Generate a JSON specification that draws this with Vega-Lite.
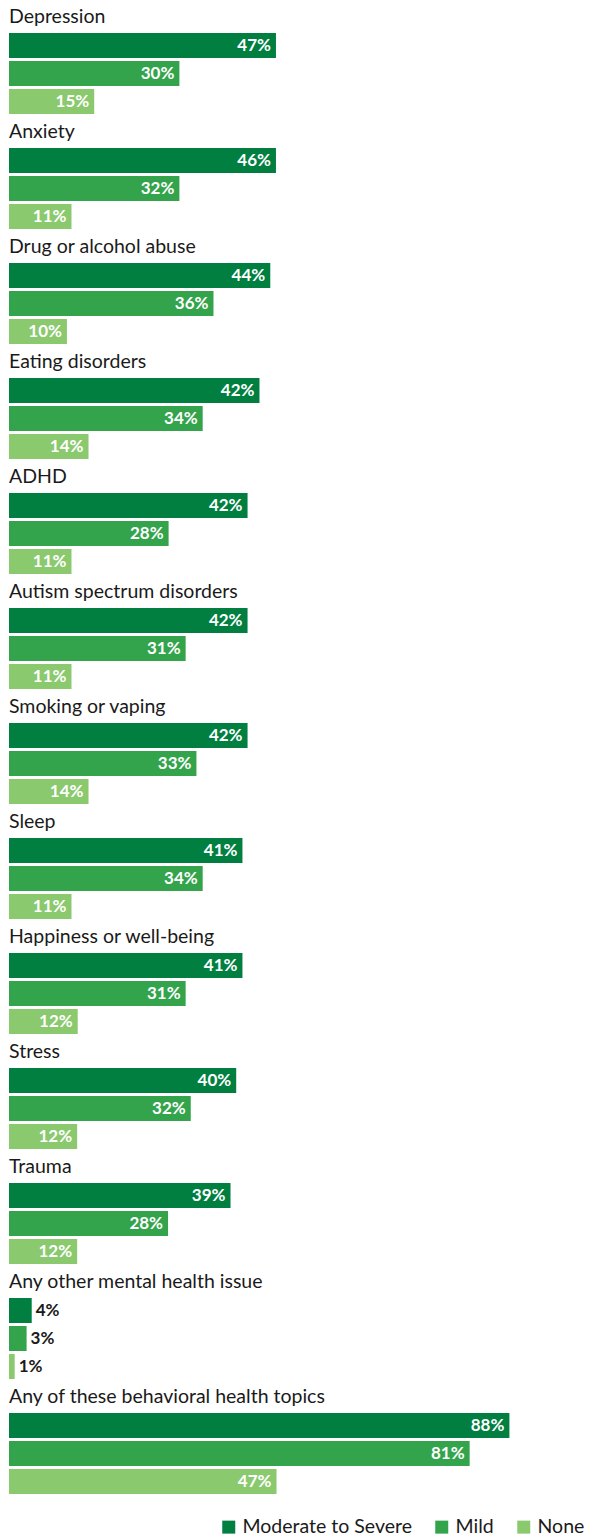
{
  "$schema": "https://vega.github.io/schema/vega-lite/v6.json",
  "padding": {"left": 9, "top": 0, "right": 12, "bottom": 0},
  "width": 568,
  "height": {"step": 115, "for": "position"},
  "config": {
    "view": {"stroke": null},
    "font": "Lato",
    "text": {"font": "Lato"}
  },
  "data": {
    "values": [
      {"topic": "Depression", "level": "Moderate to Severe", "pct": 47, "label": "47%"},
      {"topic": "Depression", "level": "Mild", "pct": 30, "label": "30%"},
      {"topic": "Depression", "level": "None", "pct": 15, "label": "15%"},
      {"topic": "Anxiety", "level": "Moderate to Severe", "pct": 47, "label": "46%"},
      {"topic": "Anxiety", "level": "Mild", "pct": 30, "label": "32%"},
      {"topic": "Anxiety", "level": "None", "pct": 11, "label": "11%"},
      {"topic": "Drug or alcohol abuse", "level": "Moderate to Severe", "pct": 46, "label": "44%"},
      {"topic": "Drug or alcohol abuse", "level": "Mild", "pct": 36, "label": "36%"},
      {"topic": "Drug or alcohol abuse", "level": "None", "pct": 10.2, "label": "10%"},
      {"topic": "Eating disorders", "level": "Moderate to Severe", "pct": 44.1, "label": "42%"},
      {"topic": "Eating disorders", "level": "Mild", "pct": 34.1, "label": "34%"},
      {"topic": "Eating disorders", "level": "None", "pct": 14, "label": "14%"},
      {"topic": "ADHD", "level": "Moderate to Severe", "pct": 42, "label": "42%"},
      {"topic": "ADHD", "level": "Mild", "pct": 28.1, "label": "28%"},
      {"topic": "ADHD", "level": "None", "pct": 11, "label": "11%"},
      {"topic": "Autism spectrum disorders", "level": "Moderate to Severe", "pct": 42, "label": "42%"},
      {"topic": "Autism spectrum disorders", "level": "Mild", "pct": 31.1, "label": "31%"},
      {"topic": "Autism spectrum disorders", "level": "None", "pct": 11, "label": "11%"},
      {"topic": "Smoking or vaping", "level": "Moderate to Severe", "pct": 42, "label": "42%"},
      {"topic": "Smoking or vaping", "level": "Mild", "pct": 33, "label": "33%"},
      {"topic": "Smoking or vaping", "level": "None", "pct": 14, "label": "14%"},
      {"topic": "Sleep", "level": "Moderate to Severe", "pct": 41.1, "label": "41%"},
      {"topic": "Sleep", "level": "Mild", "pct": 34.1, "label": "34%"},
      {"topic": "Sleep", "level": "None", "pct": 11, "label": "11%"},
      {"topic": "Happiness or well-being", "level": "Moderate to Severe", "pct": 41.1, "label": "41%"},
      {"topic": "Happiness or well-being", "level": "Mild", "pct": 31.1, "label": "31%"},
      {"topic": "Happiness or well-being", "level": "None", "pct": 12.1, "label": "12%"},
      {"topic": "Stress", "level": "Moderate to Severe", "pct": 40, "label": "40%"},
      {"topic": "Stress", "level": "Mild", "pct": 32, "label": "32%"},
      {"topic": "Stress", "level": "None", "pct": 12, "label": "12%"},
      {"topic": "Trauma", "level": "Moderate to Severe", "pct": 39, "label": "39%"},
      {"topic": "Trauma", "level": "Mild", "pct": 28, "label": "28%"},
      {"topic": "Trauma", "level": "None", "pct": 12, "label": "12%"},
      {"topic": "Any other mental health issue", "level": "Moderate to Severe", "pct": 4, "label": "4%"},
      {"topic": "Any other mental health issue", "level": "Mild", "pct": 3.1, "label": "3%"},
      {"topic": "Any other mental health issue", "level": "None", "pct": 1, "label": "1%"},
      {"topic": "Any of these behavioral health topics", "level": "Moderate to Severe", "pct": 88.1, "label": "88%"},
      {"topic": "Any of these behavioral health topics", "level": "Mild", "pct": 81.1, "label": "81%"},
      {"topic": "Any of these behavioral health topics", "level": "None", "pct": 47.1, "label": "47%"}
    ]
  },
  "encoding": {
    "y": {"field": "topic", "type": "nominal", "sort": null, "axis": null,
          "scale": {"paddingInner": 0, "paddingOuter": 0}}
  },
  "layer": [
    {
      "mark": {"type": "bar"},
      "encoding": {
        "x": {"field": "pct", "type": "quantitative", "axis": null,
              "scale": {"domain": [0, 100], "nice": false, "zero": true}},
        "yOffset": {"field": "level", "type": "nominal", "sort": ["Moderate to Severe", "Mild", "None"],
                    "scale": {"paddingInner": 0.1071, "paddingOuter": 0.607, "align": 0.97}},
        "color": {"field": "level", "type": "nominal",
                  "scale": {"domain": ["Moderate to Severe", "Mild", "None"],
                            "range": ["#007f41", "#33a44c", "#8bc96f"]},
                  "legend": {"title": null, "orient": "none", "direction": "horizontal",
                             "legendX": 210, "legendY": 1517,
                             "symbolType": "square", "symbolSize": 169, "symbolStrokeWidth": 0,
                             "labelFont": "Lato", "labelFontSize": 19.5, "labelColor": "#1a1a1a",
                             "labelLimit": 0, "labelOffset": 4, "columnPadding": 20}}
      }
    },
    {
      "transform": [{"filter": "datum.pct >= 8"}],
      "mark": {"type": "text", "align": "right", "baseline": "middle", "dx": -5, "dy": 1,
               "font": "Lato", "fontSize": 17, "fontWeight": "bold", "color": "#ffffff"},
      "encoding": {
        "x": {"field": "pct", "type": "quantitative"},
        "yOffset": {"field": "level", "type": "nominal", "sort": ["Moderate to Severe", "Mild", "None"]},
        "text": {"field": "label"}
      }
    },
    {
      "transform": [{"filter": "datum.pct < 8"}],
      "mark": {"type": "text", "align": "left", "baseline": "middle", "dx": 4, "dy": 1,
               "font": "Lato", "fontSize": 17, "fontWeight": "bold", "color": "#1a1a1a"},
      "encoding": {
        "x": {"field": "pct", "type": "quantitative"},
        "yOffset": {"field": "level", "type": "nominal", "sort": ["Moderate to Severe", "Mild", "None"]},
        "text": {"field": "label"}
      }
    },
    {
      "transform": [{"filter": "datum.level == 'Moderate to Severe'"}],
      "mark": {"type": "text", "align": "left", "baseline": "alphabetic", "dy": 23,
               "font": "Lato", "fontSize": 19.5, "color": "#1a1a1a"},
      "encoding": {
        "x": {"datum": 0},
        "y": {"field": "topic", "type": "nominal", "sort": null, "bandPosition": 0},
        "text": {"field": "topic"}
      }
    }
  ]
}
